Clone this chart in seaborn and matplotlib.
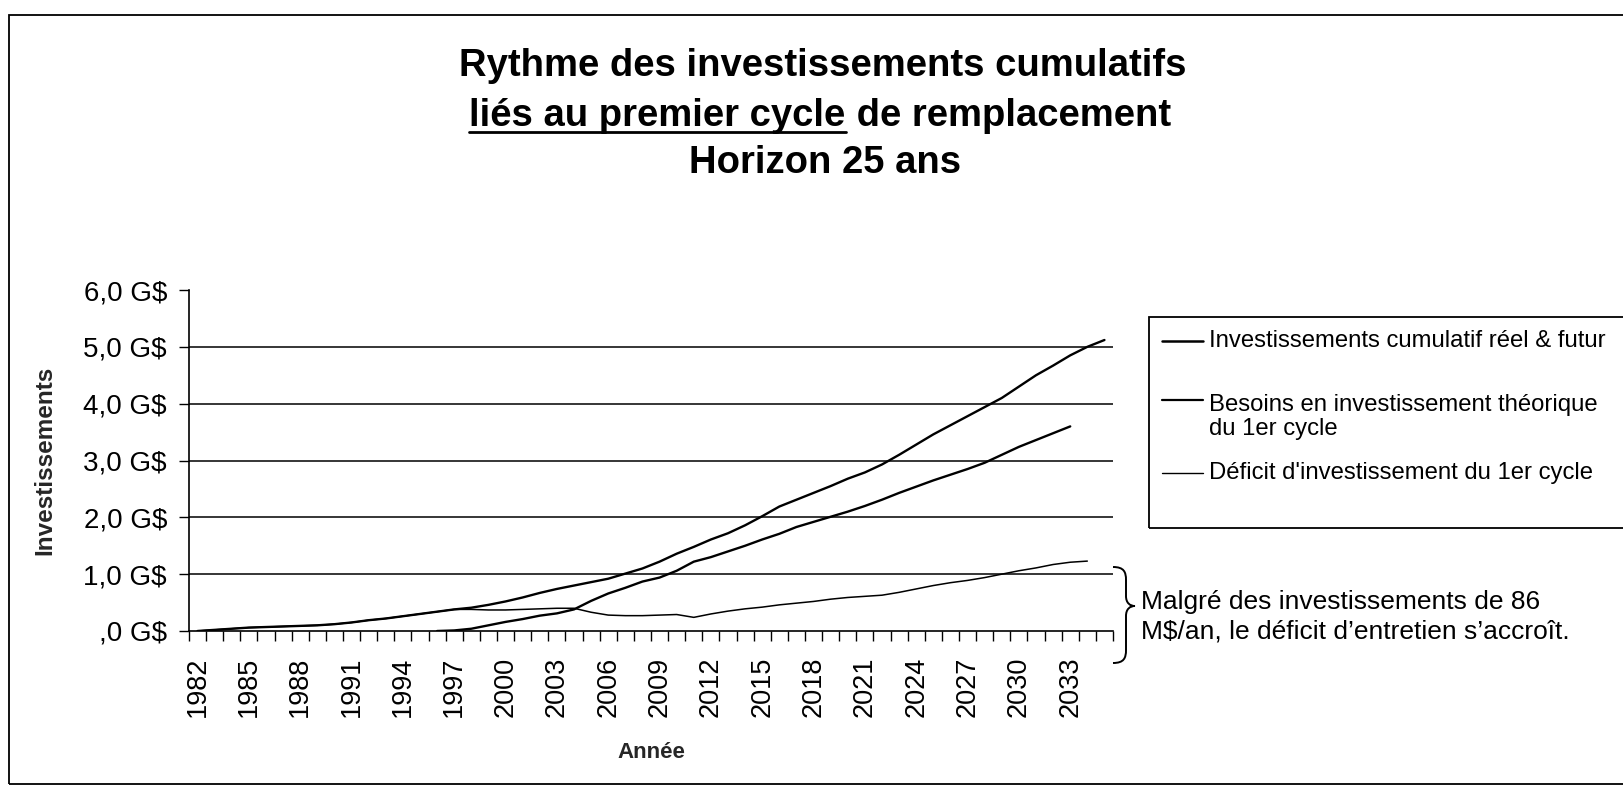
import numpy as np
import pandas as pd
import matplotlib
matplotlib.use("Agg")
import matplotlib.pyplot as plt
import seaborn as sns
from matplotlib.patches import Rectangle, PathPatch
from matplotlib.path import Path
from matplotlib.lines import Line2D

# ---------------- data ----------------
years = list(range(1982, 2036))

besoins_label = "Besoins en investissement théorique\ndu 1er cycle"
invest_label = "Investissements cumulatif réel & futur"
deficit_label = "Déficit d'investissement du 1er cycle"

besoins_years = list(range(1982, 2036))
besoins = [0.00, 0.02, 0.04, 0.06, 0.07, 0.08, 0.09, 0.10, 0.12, 0.15,
           0.19, 0.22, 0.26, 0.30, 0.34, 0.38, 0.41, 0.46, 0.52, 0.59,
           0.67, 0.74, 0.80, 0.86, 0.92, 1.01, 1.10, 1.22, 1.36, 1.48,
           1.61, 1.72, 1.86, 2.02, 2.19, 2.31, 2.43, 2.55, 2.68, 2.79,
           2.93, 3.10, 3.28, 3.46, 3.62, 3.78, 3.94, 4.10, 4.30, 4.50,
           4.67, 4.85, 5.00, 5.12]

invest_years = list(range(1996, 2034))
invest = [0.00, 0.01, 0.04, 0.10, 0.16, 0.21, 0.27, 0.31, 0.38, 0.53,
          0.66, 0.76, 0.87, 0.94, 1.06, 1.22, 1.30, 1.40, 1.50, 1.61,
          1.71, 1.83, 1.92, 2.01, 2.10, 2.20, 2.31, 2.43, 2.54, 2.65,
          2.75, 2.85, 2.96, 3.10, 3.24, 3.36, 3.48, 3.60]

deficit_years = list(range(1982, 2035))
deficit = [0.00, 0.02, 0.04, 0.06, 0.07, 0.08, 0.09, 0.10, 0.12, 0.15,
           0.19, 0.22, 0.26, 0.30, 0.34, 0.38, 0.38, 0.37, 0.37, 0.38,
           0.39, 0.40, 0.40, 0.33, 0.28, 0.27, 0.27, 0.28, 0.29, 0.24,
           0.30, 0.35, 0.39, 0.42, 0.46, 0.49, 0.52, 0.56, 0.59, 0.61,
           0.63, 0.68, 0.74, 0.80, 0.85, 0.89, 0.94, 1.00, 1.06, 1.11,
           1.17, 1.21, 1.23]

tick_years = [1982, 1985, 1988, 1991, 1994, 1997, 2000, 2003, 2006, 2009,
              2012, 2015, 2018, 2021, 2024, 2027, 2030, 2033]
y_ticks = [0, 1, 2, 3, 4, 5, 6]
y_tick_labels = [",0 G$", "1,0 G$", "2,0 G$", "3,0 G$", "4,0 G$", "5,0 G$", "6,0 G$"]

title_l1 = "Rythme des investissements cumulatifs"
title_l2a = "liés au premier cycle"
title_l2b = " de remplacement"
title_l3 = "Horizon 25 ans"
annotation = "Malgré des investissements de 86\nM$/an, le déficit d’entretien s’accroît."

# ---------------- figure ----------------
W, H = 1623, 792
def fx(x):
    return x / W
def fy(y):
    return 1 - y / H

sns.set_theme(style="white")
plt.rcParams["font.family"] = ["Liberation Sans", "DejaVu Sans"]
plt.rcParams["text.color"] = "black"

fig = plt.figure(figsize=(W / 100, H / 100), dpi=100)
fig.patch.set_facecolor("white")
ax = fig.add_axes([fx(189), fy(631), (1113 - 189) / W, (631 - 290) / H])
ax.set_facecolor("white")

frames = []
for name, yrs, vals in [(besoins_label, besoins_years, besoins),
                        (invest_label, invest_years, invest),
                        (deficit_label, deficit_years, deficit)]:
    frames.append(pd.DataFrame({"annee": yrs, "valeur": vals, "serie": name}))
df = pd.concat(frames, ignore_index=True)

sns.lineplot(data=df, x="annee", y="valeur", hue="serie", size="serie",
             palette={besoins_label: "black", invest_label: "black", deficit_label: "black"},
             sizes={besoins_label: 1.7, invest_label: 1.7, deficit_label: 1.1},
             estimator=None, legend=False, ax=ax)

ax.set_xlim(1981.5, 2035.5)
ax.set_ylim(0, 6)

ax.set_xticks(tick_years)
ax.set_xticklabels([str(y) for y in tick_years], rotation=90, fontsize=19.5)
ax.set_xticks(np.arange(1981.5, 2036, 1), minor=True)
ax.tick_params(axis="x", which="major", length=0, pad=18.5, colors="black")
ax.tick_params(axis="x", which="minor", length=7.5, width=1.0, direction="out",
               color="black", bottom=True)

ax.set_yticks(y_ticks)
ax.set_yticklabels(y_tick_labels, fontsize=20)
ax.tick_params(axis="y", which="major", length=7.2, width=1.0, direction="out",
               pad=8.6, colors="black", left=True)

ax.yaxis.grid(True, color="black", linewidth=1.1)
ax.xaxis.grid(False)
gl = ax.get_ygridlines()
gl[-1].set_visible(False)
gl[0].set_visible(False)

for s in ["top", "right"]:
    ax.spines[s].set_visible(False)
for s in ["left", "bottom"]:
    ax.spines[s].set_color("black")
    ax.spines[s].set_linewidth(1.2)

ax.set_xlabel("Année", fontsize=16, fontweight="bold", va="center")
ax.xaxis.set_label_coords(0.5, (631 - 753) / (631 - 290))
ax.set_ylabel("Investissements", fontsize=17.5, fontweight="bold", va="center")
ax.yaxis.set_label_coords((45 - 189) / (1113 - 189), 0.5)

# ---------------- outer frame ----------------
fig.add_artist(Rectangle((fx(9), fy(784)), (1700 - 9) / W, (784 - 15) / H,
                         transform=fig.transFigure, fill=False, ec="black", lw=1.3))

# ---------------- title ----------------
tfs = 27.5
fig.text(fx(823), fy(76), title_l1, ha="center", va="baseline",
         fontsize=tfs, fontweight="bold")
fig.text(fx(825), fy(173), title_l3, ha="center", va="baseline",
         fontsize=tfs, fontweight="bold")
ta = fig.text(0, fy(126), title_l2a, ha="left", va="baseline", fontsize=tfs, fontweight="bold")
tb = fig.text(0, fy(126), title_l2b, ha="left", va="baseline", fontsize=tfs, fontweight="bold")
fig.canvas.draw()
r = fig.canvas.get_renderer()
wa = ta.get_window_extent(r).width
wb = tb.get_window_extent(r).width
x0 = 820 - (wa + wb) / 2
ta.set_x(fx(x0))
tb.set_x(fx(x0 + wa))
fig.add_artist(Line2D([fx(x0), fx(x0 + wa)], [fy(132), fy(132)],
                      transform=fig.transFigure, color="black", lw=2.0))

# ---------------- legend (manual box) ----------------
fig.add_artist(Rectangle((fx(1149), fy(528)), (1700 - 1149) / W, (528 - 317) / H,
                         transform=fig.transFigure, fill=False, ec="black", lw=1.3))
leg_items = [(invest_label, 341, 1.8, 341),
             (besoins_label, 400, 1.6, 417),
             (deficit_label, 473, 1.0, 473)]
for lab, ly, lw, ty in leg_items:
    fig.add_artist(Line2D([fx(1162), fx(1203)], [fy(ly), fy(ly)],
                          transform=fig.transFigure, color="black", lw=lw))
    fig.text(fx(1209), fy(ty), lab, ha="left", va="center", fontsize=17.2,
             linespacing=1.15)

# ---------------- brace + annotation ----------------
pts = [(1113, 567), (1124, 567), (1126, 572), (1126, 580),
       (1126, 596),
       (1126, 603), (1130, 606), (1135, 606),
       (1130, 606), (1126, 609), (1126, 616),
       (1126, 650),
       (1126, 658), (1124, 663), (1113, 663)]
codes = [Path.MOVETO, Path.CURVE4, Path.CURVE4, Path.CURVE4,
         Path.LINETO,
         Path.CURVE4, Path.CURVE4, Path.CURVE4,
         Path.CURVE4, Path.CURVE4, Path.CURVE4,
         Path.LINETO,
         Path.CURVE4, Path.CURVE4, Path.CURVE4]
brace = Path([(fx(px), fy(py)) for px, py in pts], codes)
fig.add_artist(PathPatch(brace, transform=fig.transFigure, fill=False, ec="black", lw=1.4))

fig.text(fx(1141), fy(617), annotation, ha="left", va="center", fontsize=19,
         linespacing=1.3)

fig.savefig("out.png", dpi=100, facecolor="white")
